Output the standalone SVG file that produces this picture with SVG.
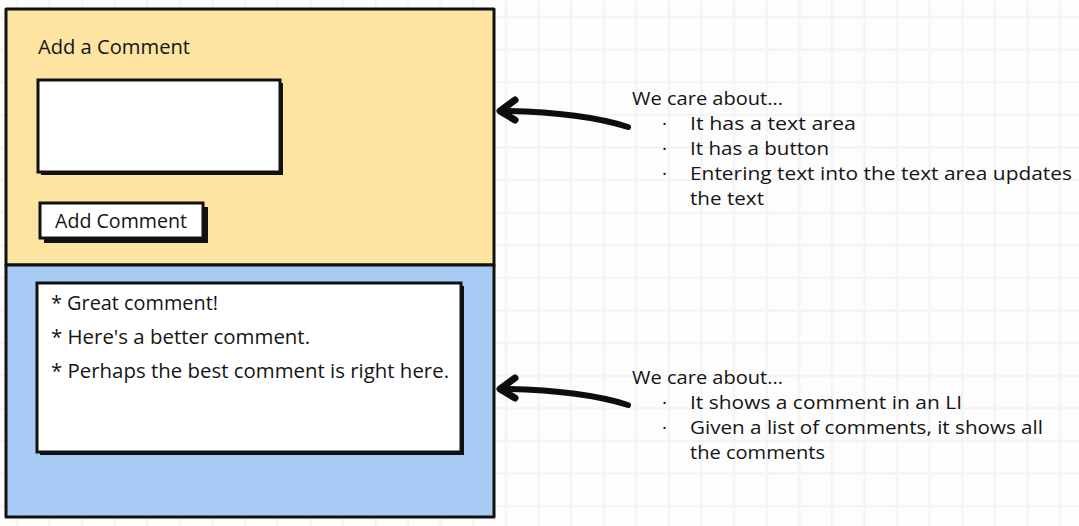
<svg xmlns="http://www.w3.org/2000/svg" width="1079" height="526" viewBox="0 0 1079 526">
  <style>
    text { font-family: "Open Sans", "Liberation Sans", Arial, sans-serif; fill: #151515; }
    .ui { font-size: 19.5px; }
    .note { font-size: 19px; }
    .frame { stroke: #111; stroke-width: 3; stroke-linejoin: round; }
    .box { fill: #fff; stroke: #111; stroke-width: 3; }
    .shadow { fill: #111; }
    .arrow { fill: none; stroke: #0d0d0d; stroke-linecap: round; stroke-linejoin: round; }
  </style>
  <defs>
    <!-- faint squared paper -->
    <pattern id="grid" x="0.6" y="0.8" width="32.6" height="32.6" patternUnits="userSpaceOnUse">
      <path d="M16.3 0 V32.6 M0 16.3 H32.6" stroke="#f2f2f2" stroke-width="2" fill="none"/>
    </pattern>
  </defs>

  <rect width="1079" height="526" fill="#fdfdfd"/>
  <rect width="1079" height="526" fill="url(#grid)"/>

  <!-- form component -->
  <g id="comment-form">
    <rect class="frame" x="6" y="9" width="488" height="256" fill="#fde4a1"/>
    <text class="ui" x="38" y="54" textLength="152" lengthAdjust="spacingAndGlyphs">Add a Comment</text>
    <!-- text area -->
    <rect class="shadow" x="41" y="83" width="242" height="92"/>
    <rect class="box" x="38" y="80" width="242" height="92"/>
    <!-- button -->
    <rect class="shadow" x="44" y="207" width="164" height="36"/>
    <rect class="box" x="40" y="203" width="163" height="35" stroke-width="2.5"/>
    <text class="ui" x="55" y="228" textLength="132" lengthAdjust="spacingAndGlyphs">Add Comment</text>
  </g>

  <!-- list component -->
  <g id="comment-list">
    <rect class="frame" x="6" y="265" width="488" height="252" fill="#a8cbf5"/>
    <rect class="shadow" x="40" y="286" width="424" height="169"/>
    <rect class="box" x="37" y="283" width="424" height="169"/>
    <text class="ui" x="51" y="310" textLength="167" lengthAdjust="spacingAndGlyphs">* Great comment!</text>
    <text class="ui" x="51" y="344" textLength="259" lengthAdjust="spacingAndGlyphs">* Here's a better comment.</text>
    <text class="ui" x="51" y="378" textLength="398" lengthAdjust="spacingAndGlyphs">* Perhaps the best comment is right here.</text>
  </g>

  <!-- notes on the form -->
  <g id="form-notes">
    <text class="note" x="632" y="105" textLength="151" lengthAdjust="spacingAndGlyphs">We care about...</text>
    <text class="note" x="662" y="130">·</text>
    <text class="note" x="690" y="130" textLength="166" lengthAdjust="spacingAndGlyphs">It has a text area</text>
    <text class="note" x="662" y="155">·</text>
    <text class="note" x="690" y="155" textLength="139" lengthAdjust="spacingAndGlyphs">It has a button</text>
    <text class="note" x="662" y="180">·</text>
    <text class="note" x="690" y="180" textLength="382" lengthAdjust="spacingAndGlyphs">Entering text into the text area updates</text>
    <text class="note" x="690" y="205" textLength="74" lengthAdjust="spacingAndGlyphs">the text</text>
  </g>

  <!-- notes on the list -->
  <g id="list-notes">
    <text class="note" x="632" y="384" textLength="151" lengthAdjust="spacingAndGlyphs">We care about...</text>
    <text class="note" x="662" y="409">·</text>
    <text class="note" x="690" y="409" textLength="272" lengthAdjust="spacingAndGlyphs">It shows a comment in an LI</text>
    <text class="note" x="662" y="434">·</text>
    <text class="note" x="690" y="434" textLength="353" lengthAdjust="spacingAndGlyphs">Given a list of comments, it shows all</text>
    <text class="note" x="690" y="459" textLength="135" lengthAdjust="spacingAndGlyphs">the comments</text>
  </g>

  <!-- hand-drawn arrows -->
  <g id="connectors">
    <path class="arrow" stroke-width="6" d="M628 127 Q580 112 502 111"/>
    <path class="arrow" stroke-width="7" d="M515 100 L500 111 L515 120"/>
    <path class="arrow" stroke-width="6" d="M628 405 Q580 390 502 389"/>
    <path class="arrow" stroke-width="7" d="M515 378 L500 389 L515 398"/>
  </g>
</svg>
